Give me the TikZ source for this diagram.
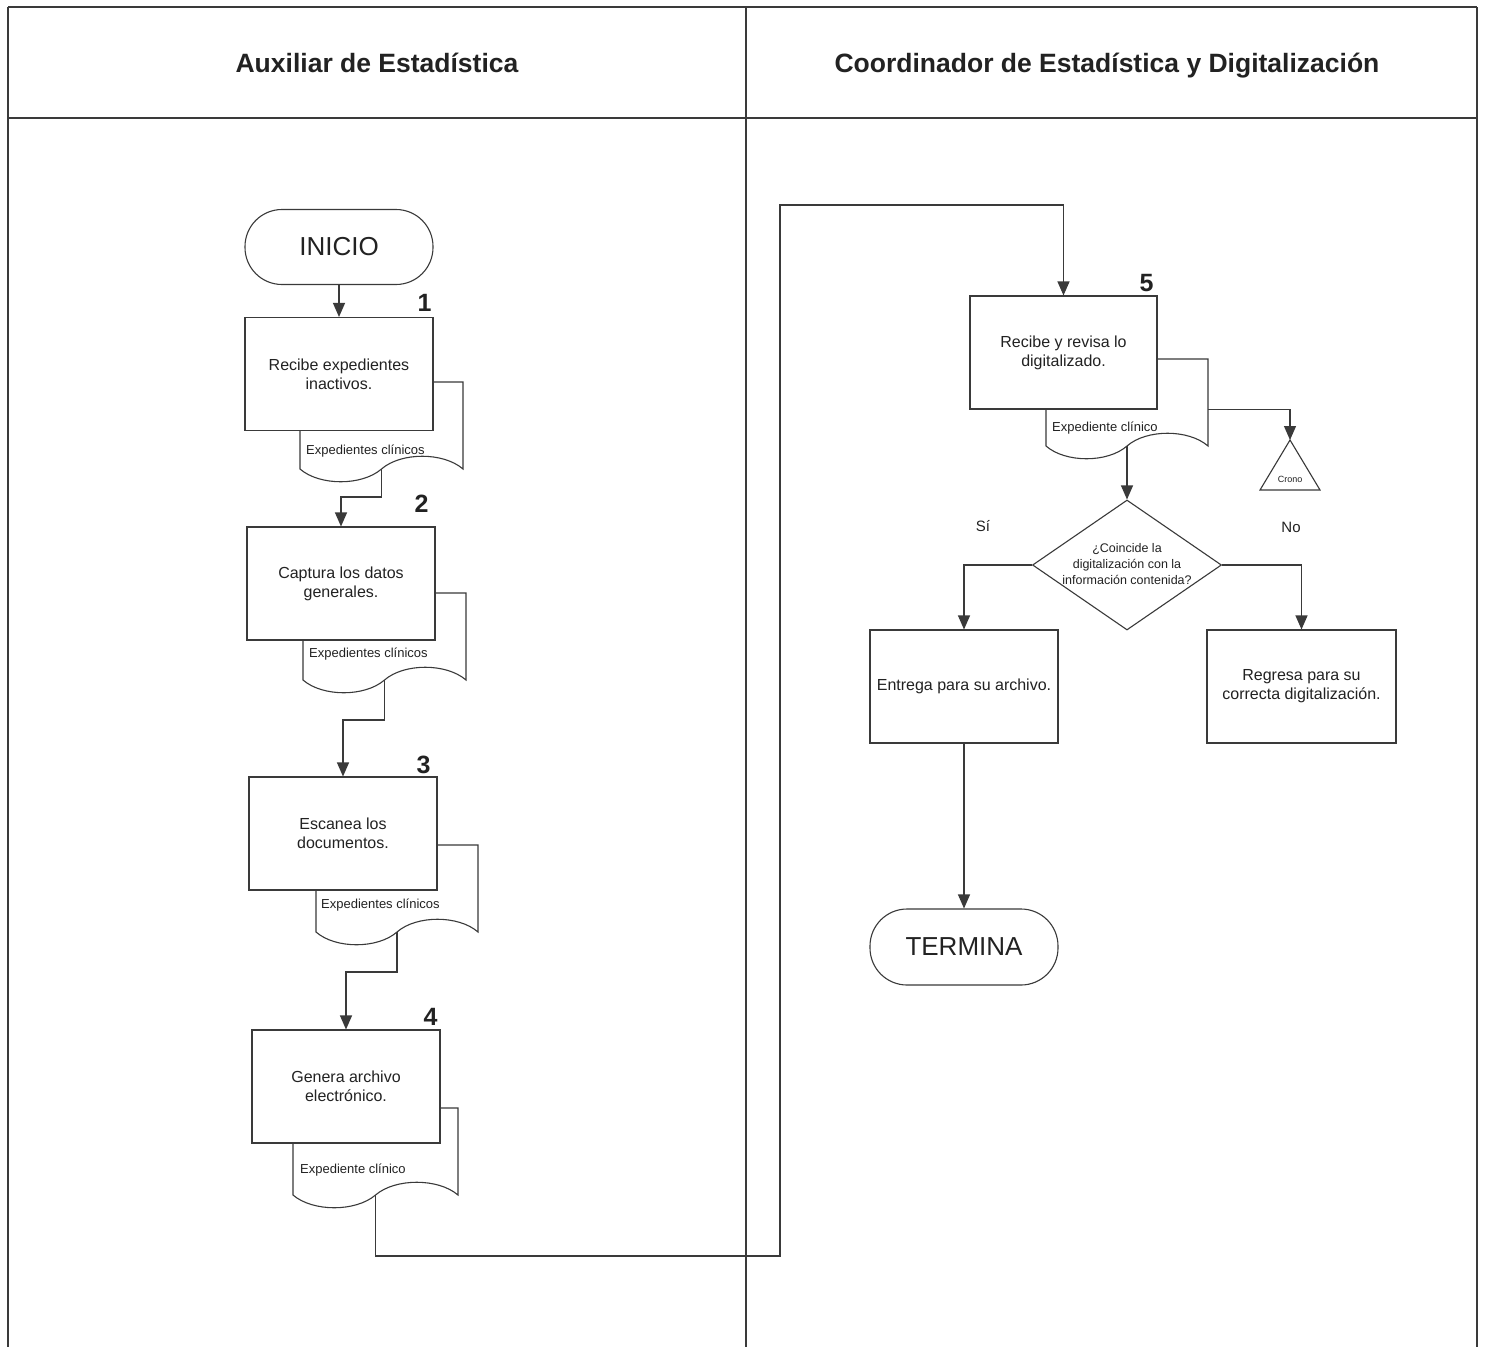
\documentclass[tikz,border=0pt]{standalone}
\usepackage{fontspec}
\setmainfont{Liberation Sans}
\usetikzlibrary{arrows.meta,shapes.geometric,calc}
\definecolor{lnc}{HTML}{3A3A3A}
\definecolor{txc}{HTML}{222222}
\newcommand\docshp[8]{%
  \pgfmathsetmacro\dW{#4-#2}%
  \pgfmathsetmacro\dM{#2+0.5*\dW}%
  \draw[ln, fill=white] (#4,#3) -- (#4,#5)
    .. controls ({#4-0.12*\dW},{#5-17}) and ({#4-0.38*\dW},{#5-17}) .. (\dM,#5)
    .. controls ({#2+0.38*\dW},{#5+17}) and ({#2+0.12*\dW},{#5+17}) .. (#2,#5)
    -- (#2,#3) -- cycle;
  \coordinate (#1) at (\dM,#5);
  \coordinate (#1tr) at (#4,#3);
  \node[doclbl, anchor=west] (#1l) at (#6,#7) {#8};
}
\begin{document}
\begin{tikzpicture}[x=1pt,y=-1pt,
  ln/.style={draw=lnc, line width=1.1pt},
  frame/.style={draw=lnc, line width=1.8pt},
  box/.style={ln, fill=white, rectangle, minimum width=188pt, minimum height=113pt,
    inner sep=0pt, align=center, text=txc, font=\fontsize{16}{19}\selectfont},
  term/.style={ln, fill=white, rectangle, rounded corners=37pt, minimum width=188pt,
    minimum height=75pt, inner sep=0pt, text=txc, font=\fontsize{26}{30}\selectfont},
  arr/.style={ln, -{Triangle[width=12pt,length=14pt]}},
  num/.style={text=txc, font=\fontsize{25}{28}\selectfont\bfseries, inner sep=0pt},
  doclbl/.style={text=txc, inner sep=0pt, font=\fontsize{13}{15}\selectfont},
  hdr/.style={text=txc, font=\fontsize{26.5}{30}\selectfont\bfseries},
  small/.style={text=txc, font=\fontsize{15}{18}\selectfont}
]
\useasboundingbox (0,0) rectangle (1486,1347);
\fill[white] (0,0) rectangle (1486,1347);

% frame and lanes
\draw[frame] (8,7) -- (1477,7);
\draw[frame] (8,118) -- (1477,118);
\draw[frame] (8,7) -- (8,1347);
\draw[frame] (1477,7) -- (1477,1347);
\draw[frame] (746,7) -- (746,1347);
\node[hdr, anchor=base] (h1) at (377,72) {Auxiliar de Estadística};
\node[hdr, anchor=base] (h2) at (1107,72) {Coordinador de Estadística y Digitalización};

% documents (drawn first, boxes cover them)
\docshp{d1}{300}{382}{463}{469}{306}{451}{Expedientes clínicos}
\docshp{d2}{303}{593}{466}{680}{309}{654}{Expedientes clínicos}
\docshp{d3}{316}{845}{478}{932}{321}{905}{Expedientes clínicos}
\docshp{d4}{293}{1108}{458}{1195}{300}{1170}{Expediente clínico}
\docshp{d5}{1046}{359}{1208}{446}{1052}{428}{Expediente clínico}

% nodes
\node[term] (inicio) at (339,247) {INICIO};
\node[box] (b1) at (339,374) {Recibe expedientes\\inactivos.};
\node[box] (b2) at (341,583.5) {Captura los datos\\generales.};
\node[box] (b3) at (343,833.5) {Escanea los\\documentos.};
\node[box] (b4) at (346,1086.5) {Genera archivo\\electrónico.};
\node[box, minimum width=187pt] (b5) at (1063.5,352.5) {Recibe y revisa lo\\digitalizado.};
\node[box] (entrega) at (964,686.5) {Entrega para su archivo.};
\node[box, minimum width=189pt] (regresa) at (1301.5,686.5) {Regresa para su\\correcta digitalización.};
\node[term, minimum height=76pt] (termina) at (964,947) {TERMINA};
\node[ln, diamond, fill=white, minimum width=189pt, minimum height=130pt, inner sep=0pt] (dec) at (1127,565) {};
\node[text=txc, align=center, font=\fontsize{12.5}{16}\selectfont] (dect) at (1127,564)
  {¿Coincide la\\digitalización con la\\información contenida?};

% numbers
\node[num] (n1) at ($(b1.north east)+(-9,-14)$) {1};
\node[num] (n2) at ($(b2.north east)+(-14,-23)$) {2};
\node[num] (n3) at ($(b3.north east)+(-14,-12)$) {3};
\node[num] (n4) at ($(b4.north east)+(-10,-13)$) {4};
\node[num] (n5) at ($(b5.north east)+(-11,-12)$) {5};

% Crono triangle
\coordinate (crono) at (1290,440);
\coordinate (cronoR) at (1320,490);
\coordinate (cronoL) at (1260,490);
\draw[ln, fill=white] (crono) -- (cronoR) -- (cronoL) -- cycle;
\node[text=txc, font=\fontsize{9}{10}\selectfont, inner sep=0pt] (cronot) at (1290,479) {Crono};

% labels Sí / No
\node[small] (si) at (983,526) {Sí};
\node[small] (no) at (1291,527) {No};

% connectors
\coordinate (c1) at (780,1256);
\coordinate (c2) at (780,205);
\draw[arr] (inicio.south) -- (b1.north);
\draw[arr] (d1) -- ++(0,28) -| (b2.north);
\draw[arr] (d2) -- ++(0,40) -| (b3.north);
\draw[arr] (d3) -- ++(0,40) -| (b4.north);
\draw[arr] (d4) |- (c1) -- (c2) -| (b5.north);
\draw[arr] (d5tr |- b5.south) -| (crono);
\draw[arr] (d5) -- (dec.north);
\draw[arr] (dec.west) -| (entrega.north);
\draw[arr] (dec.east) -| (regresa.north);
\draw[arr] (entrega.south) -- (termina.north);
\end{tikzpicture}
\end{document}
